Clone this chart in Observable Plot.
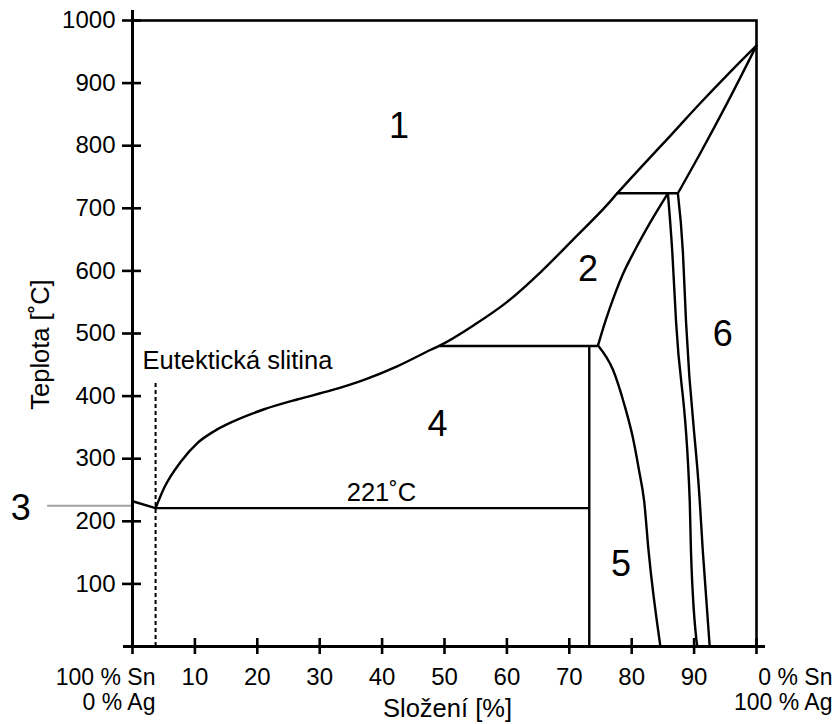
<!DOCTYPE html>
<html>
<head>
<meta charset="utf-8">
<script src="https://cdn.jsdelivr.net/npm/d3@7"></script>
<script src="https://cdn.jsdelivr.net/npm/@observablehq/plot@0.6"></script>
<style>
  html, body { margin: 0; padding: 0; background: white; }
</style>
</head>
<body>
<div id="chart"></div>
<script>
// ---- Data (composition % Ag, temperature °C) ----
const xTicks = [10, 20, 30, 40, 50, 60, 70, 80, 90];
const xTickMarks = [0, 10, 20, 30, 40, 50, 60, 70, 80, 90, 100];
const yTicks = [100, 200, 300, 400, 500, 600, 700, 800, 900, 1000];
const endLabelLeft = ["100 % Sn\n0 % Ag"];
const endLabelRight = ["0 % Sn\n100 % Ag"];

// liquidus, Sn side (short segment down to eutectic)
const liquidusSn = [[0, 232], [3.7, 221]];
// liquidus, from eutectic up to melting point of Ag
const liquidus = [
  [3.7, 221], [5.1, 254], [7.8, 296], [10.4, 325], [13.1, 344], [15.8, 358],
  [21.1, 379], [26.5, 395], [31.8, 409], [37.1, 426], [42.5, 448], [47.8, 474],
  [49.3, 481], [54.8, 514], [60.1, 551], [65.5, 599], [70.8, 652], [76.2, 707],
  [77.6, 723], [82, 771], [86.3, 817], [90.9, 867], [96, 920], [100, 960]
];
// solidus of Ag-rich phase
const solidusAg = [[87.4, 724], [91.1, 790], [95.4, 870], [100, 960]];
// boundary of phase 2 toward lower peritectic
const zetaLeft = [
  [74.6, 481], [75.8, 520], [77.2, 560], [78.6, 595], [80.4, 631], [83, 678], [85.8, 724]
];
// boundary of phase 5
const phase5 = [
  [74.6, 481], [77.0, 442], [78.8, 387], [80.2, 333], [81.2, 280], [82.0, 232],
  [82.7, 153], [84.6, 0]
];
// solvus lines of Ag-rich phase
const solvusA = [[85.8, 724], [86.5, 631], [87.1, 520], [89.3, 233], [89.5, 152], [90.5, 0]];
const solvusB = [[87.4, 724], [88.2, 631], [88.7, 520], [90.9, 233], [91.4, 152], [92.5, 0]];
// horizontal isotherms
const isotherms = [
  {x1: 3.7, x2: 73.2, y: 221},
  {x1: 49.3, x2: 74.6, y: 480},
  {x1: 77.6, x2: 87.4, y: 724}
];
// intermetallic vertical
const intermetallic = [{x: 73.2, y1: 0, y2: 480}];
// eutectic composition (dashed)
const eutecticLine = [{x: 3.7, y1: 0, y2: 425}];
// grey pointer to region 3
const pointer = [{x1: -13.6, x2: 0.3, y: 225}];

const regionLabels = [
  {x: 42.7, y: 830, text: "1"},
  {x: 73.0, y: 602, text: "2"},
  {x: -17.9, y: 221, text: "3"},
  {x: 48.9, y: 355, text: "4"},
  {x: 78.3, y: 131, text: "5"},
  {x: 94.6, y: 498, text: "6"}
];
const eutecticNote = [{x: 1.6, y: 457, text: "Eutektická slitina"}];
const tempNote = [{x: 39.9, y: 245, text: "221˚C"}];

const lineStyle = {x: d => d[0], y: d => d[1], stroke: "black", strokeWidth: 2.4, curve: "monotone-x"};

const chart = Plot.plot({
  width: 833,
  height: 724,
  marginLeft: 132,
  marginRight: 77,
  marginTop: 20,
  marginBottom: 78,
  x: {domain: [0, 100], axis: null},
  y: {domain: [0, 1000], axis: null},
  style: {fontFamily: "'Liberation Sans', Arial, sans-serif", background: "white", color: "black"},
  marks: [
    Plot.ruleY(pointer, {x1: "x1", x2: "x2", y: "y", stroke: "#a0a0a0", strokeWidth: 2}),
    Plot.ruleX(eutecticLine, {x: "x", y1: "y1", y2: "y2", stroke: "black", strokeWidth: 2, strokeDasharray: "4,3"}),
    Plot.line(liquidusSn, {...lineStyle, curve: "linear"}),
    Plot.line(liquidus, lineStyle),
    Plot.line(solidusAg, lineStyle),
    Plot.line(zetaLeft, lineStyle),
    Plot.line(phase5, lineStyle),
    Plot.line(solvusA, lineStyle),
    Plot.line(solvusB, lineStyle),
    Plot.ruleY(isotherms, {x1: "x1", x2: "x2", y: "y", stroke: "black", strokeWidth: 2.4}),
    Plot.ruleX(intermetallic, {x: "x", y1: "y1", y2: "y2", stroke: "black", strokeWidth: 2.4}),
    Plot.frame({stroke: "black", strokeWidth: 2.6}),
    // axis lines, overshooting the frame
    Plot.ruleX([0], {stroke: "black", strokeWidth: 3, insetTop: -10}),
    Plot.ruleY([0], {stroke: "black", strokeWidth: 3, insetLeft: -9, insetRight: -9}),
    // ticks crossing the axes
    Plot.ruleY(yTicks, {y: d => d, x1: 0, x2: 0, insetLeft: -10, insetRight: -9, stroke: "black", strokeWidth: 2.6}),
    Plot.ruleX(xTickMarks, {x: d => d, y1: 0, y2: 0, insetTop: -8, insetBottom: -8, stroke: "black", strokeWidth: 2.6}),
    // tick labels
    Plot.text(yTicks, {x: 0, y: d => d, text: d => String(d), textAnchor: "end", dx: -17, fontSize: 24, fill: "black"}),
    Plot.text(xTicks, {x: d => d, y: 0, text: d => String(d), dy: 31, fontSize: 24, fill: "black"}),
    Plot.text(endLabelLeft, {x: 0, y: 0, text: d => d, textAnchor: "end", dx: 23, dy: 43, lineHeight: 1.1, fontSize: 23, fill: "black"}),
    Plot.text(endLabelRight, {x: 100, y: 0, text: d => d, textAnchor: "end", dx: 76, dy: 43, lineHeight: 1.1, fontSize: 23, fill: "black"}),
    // axis titles
    Plot.text(["Teplota [˚C]"], {frameAnchor: "left", text: d => d, rotate: -90, textAnchor: "middle", lineAnchor: "middle", dx: -92, dy: 11, fontSize: 25.5, fill: "black"}),
    Plot.text(["Složení [%]"], {frameAnchor: "bottom", text: d => d, textAnchor: "middle", lineAnchor: "middle", dx: 3, dy: 62, fontSize: 25.5, fill: "black"}),
    // region numbers
    Plot.text(regionLabels, {x: "x", y: "y", text: "text", fontSize: 36, fill: "black"}),
    // annotations
    Plot.text(eutecticNote, {x: "x", y: "y", text: "text", textAnchor: "start", fontSize: 25.5, fill: "black"}),
    Plot.text(tempNote, {x: "x", y: "y", text: "text", textAnchor: "middle", fontSize: 25.5, fill: "black"})
  ]
});
document.getElementById("chart").appendChild(chart);
</script>
</body>
</html>
